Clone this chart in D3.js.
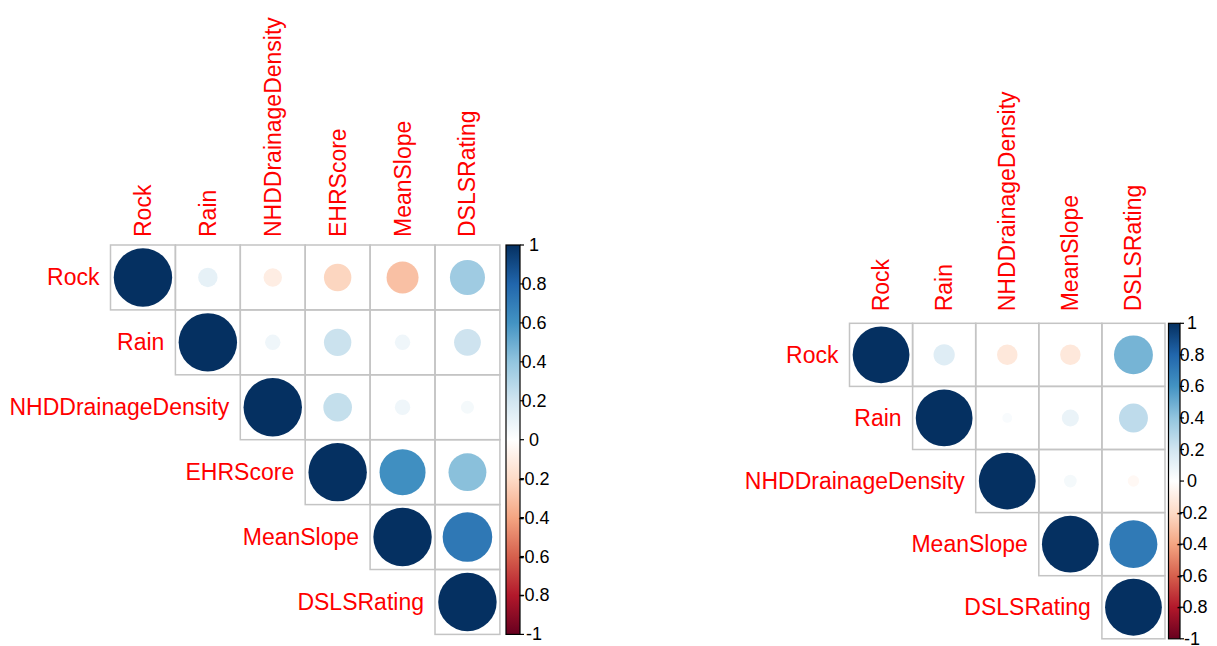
<!DOCTYPE html>
<html>
<head>
<meta charset="utf-8">
<script src="https://cdn.jsdelivr.net/npm/d3@7"></script>
<style>
  html, body { margin: 0; padding: 0; background: #ffffff; }
  svg { display: block; font-family: "Liberation Sans", Arial, sans-serif; }
</style>
</head>
<body>
<svg id="chart" width="1217" height="646"></svg>
<script>
// Variables of the first correlation matrix (6 x 6)
const leftNames = ["Rock", "Rain", "NHDDrainageDensity", "EHRScore", "MeanSlope", "DSLSRating"];
// Upper triangle, row by row (row i holds columns i..n-1)
const leftUpper = [
  [1, 0.11, -0.10, -0.22, -0.30, 0.36],
  [1, 0.07, 0.22, 0.07, 0.21],
  [1, 0.24, 0.07, 0.05],
  [1, 0.62, 0.42],
  [1, 0.72],
  [1]
];

// Variables of the second correlation matrix (5 x 5)
const rightNames = ["Rock", "Rain", "NHDDrainageDensity", "MeanSlope", "DSLSRating"];
const rightUpper = [
  [1, 0.14, -0.13, -0.13, 0.47],
  [1, 0.03, 0.09, 0.26],
  [1, 0.05, -0.04],
  [1, 0.71],
  [1]
];

// Colour legend ticks
const legendTicks = [1, 0.8, 0.6, 0.4, 0.2, 0, -0.2, -0.4, -0.6, -0.8, -1];
const legendLabels = ["1", "0.8", "0.6", "0.4", "0.2", "0", "-0.2", "-0.4", "-0.6", "-0.8", "-1"];

// Diverging red-blue palette, -1 .. 1
const paletteStops = ["#67001F", "#B2182B", "#D6604D", "#F4A582", "#FDDBC7", "#FFFFFF",
                      "#D1E5F0", "#92C5DE", "#4393C3", "#2166AC", "#053061"];
const color = d3.scaleLinear()
  .domain(d3.range(11).map(i => -1 + i * 0.2))
  .range(paletteStops)
  .interpolate(d3.interpolateRgb);

const svg = d3.select("#chart");
const defs = svg.append("defs");
const grad = defs.append("linearGradient")
  .attr("id", "rdbu").attr("x1", 0).attr("y1", 1).attr("x2", 0).attr("y2", 0);
paletteStops.forEach((c, i) => {
  grad.append("stop").attr("offset", (i / 10 * 100) + "%").attr("stop-color", c);
});

const labelSize = 23;

function drawCorrplot(opts) {
  const { names, upper, left, top, cell, colGap, rowGap, bar } = opts;
  const n = names.length;
  const g = svg.append("g");

  const x = d3.scaleBand().domain(names).range([left, left + n * cell]);
  const y = d3.scaleBand().domain(names).range([top, top + n * cell]);
  const r = d3.scaleSqrt().domain([0, 1]).range([0, cell * 0.45]);

  const cells = [];
  upper.forEach((row, i) => {
    row.forEach((v, k) => {
      const j = i + k;
      cells.push({ row: names[i], col: names[j], value: v });
    });
  });

  // cell borders
  g.selectAll("rect.cell").data(cells).join("rect")
    .attr("class", "cell")
    .attr("x", d => x(d.col))
    .attr("y", d => y(d.row))
    .attr("width", x.bandwidth())
    .attr("height", y.bandwidth())
    .attr("fill", "none")
    .attr("stroke", "#C4C4C4")
    .attr("stroke-width", 1.5);

  // correlation circles
  g.selectAll("circle").data(cells).join("circle")
    .attr("cx", d => x(d.col) + x.bandwidth() / 2)
    .attr("cy", d => y(d.row) + y.bandwidth() / 2)
    .attr("r", d => r(Math.abs(d.value)))
    .attr("fill", d => color(d.value));

  // row labels
  g.selectAll("text.rowlab").data(names).join("text")
    .attr("class", "rowlab")
    .attr("x", (d, i) => x(names[i]) - rowGap)
    .attr("y", d => y(d) + y.bandwidth() / 2)
    .attr("text-anchor", "end")
    .attr("dominant-baseline", "central")
    .attr("font-size", labelSize)
    .attr("fill", "#FF0000")
    .text(d => d);

  // column labels (vertical)
  g.selectAll("text.collab").data(names).join("text")
    .attr("class", "collab")
    .attr("transform", d => `translate(${x(d) + x.bandwidth() / 2},${top - colGap}) rotate(-90)`)
    .attr("text-anchor", "start")
    .attr("dominant-baseline", "central")
    .attr("font-size", labelSize)
    .attr("fill", "#FF0000")
    .text(d => d);

  // colour legend
  const yl = d3.scaleLinear().domain([-1, 1]).range([top + n * cell, top]);
  const lg = g.append("g");
  lg.append("rect")
    .attr("x", bar.x).attr("y", top)
    .attr("width", bar.w).attr("height", n * cell)
    .attr("fill", "url(#rdbu)")
    .attr("stroke", "#000").attr("stroke-width", 1.2);
  lg.selectAll("line.tick").data(legendTicks).join("line")
    .attr("class", "tick")
    .attr("x1", bar.x + bar.w).attr("x2", bar.x + bar.w + 4)
    .attr("y1", d => yl(d)).attr("y2", d => yl(d))
    .attr("stroke", "#000").attr("stroke-width", 1.2);
  lg.selectAll("text.lab").data(legendTicks).join("text")
    .attr("class", "lab")
    .attr("x", bar.labelX)
    .attr("y", d => yl(d))
    .attr("text-anchor", "middle")
    .attr("dominant-baseline", "central")
    .attr("font-size", 18)
    .attr("fill", "#000")
    .text((d, i) => legendLabels[i]);
}

drawCorrplot({
  names: leftNames, upper: leftUpper,
  left: 110.5, top: 245, cell: 64.9, colGap: 8, rowGap: 11,
  bar: { x: 506, w: 14, labelX: 534 }
});

drawCorrplot({
  names: rightNames, upper: rightUpper,
  left: 849.5, top: 323.3, cell: 63.1, colGap: 12, rowGap: 11,
  bar: { x: 1168.5, w: 11.5, labelX: 1192 }
});
</script>
</body>
</html>
